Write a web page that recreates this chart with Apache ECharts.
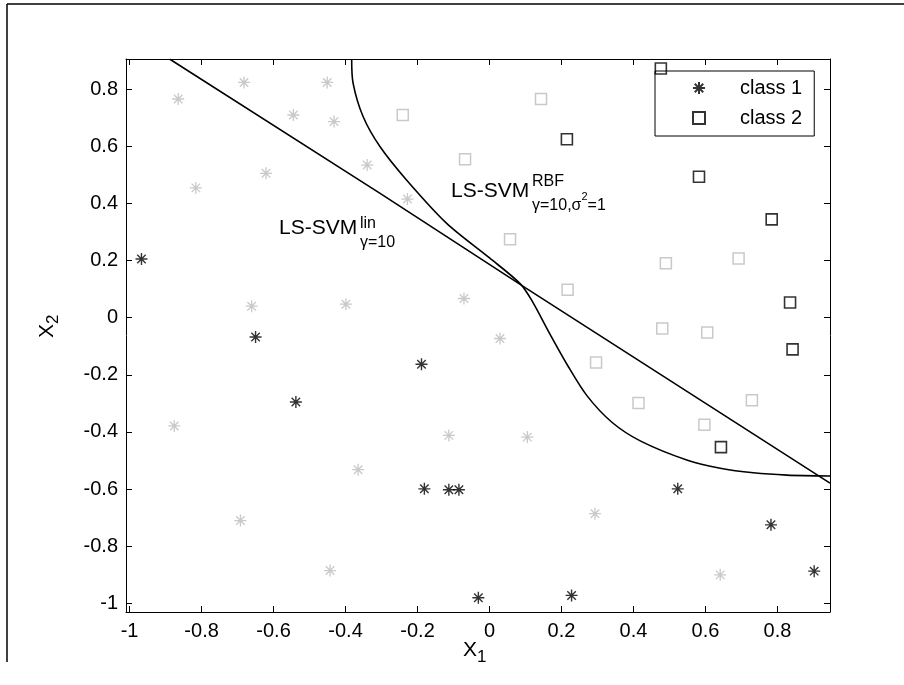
<!DOCTYPE html>
<html>
<head>
<meta charset="utf-8">
<script src="https://cdn.jsdelivr.net/npm/echarts@6/dist/echarts.min.js"></script>
<style>
  html, body { margin: 0; padding: 0; background: #fff; }
  #chart { width: 904px; height: 685px; }
</style>
</head>
<body>
<div id="chart"></div>
<script>
// Tick positions on both axes
const xTicks = [-1, -0.8, -0.6, -0.4, -0.2, 0, 0.2, 0.4, 0.6, 0.8];
const yTicks = [-1, -0.8, -0.6, -0.4, -0.2, 0, 0.2, 0.4, 0.6, 0.8];

// Training points (drawn in black)
const class1Train = [
  [-0.967, 0.205], [-0.650, -0.068], [-0.538, -0.295], [-0.189, -0.163],
  [-0.181, -0.599], [-0.113, -0.602], [-0.085, -0.602], [-0.031, -0.980],
  [0.228, -0.972], [0.523, -0.599], [0.782, -0.725], [0.902, -0.887]
];
const class2Train = [
  [0.476, 0.872], [0.215, 0.624], [0.582, 0.493], [0.784, 0.344],
  [0.835, 0.053], [0.842, -0.111], [0.643, -0.453]
];

// Remaining points (drawn in grey)
const class1Other = [
  [-0.865, 0.765], [-0.682, 0.823], [-0.451, 0.823], [-0.545, 0.709],
  [-0.432, 0.686], [-0.621, 0.505], [-0.816, 0.454], [-0.340, 0.534],
  [-0.228, 0.415], [-0.661, 0.040], [-0.399, 0.047], [-0.071, 0.067],
  [0.029, -0.073], [-0.113, -0.412], [0.105, -0.418], [0.293, -0.686],
  [0.641, -0.900], [-0.876, -0.379], [-0.365, -0.532], [-0.692, -0.710],
  [-0.443, -0.885]
];
const class2Other = [
  [-0.241, 0.709], [0.143, 0.765], [-0.068, 0.554], [0.057, 0.274],
  [0.217, 0.098], [0.490, 0.190], [0.692, 0.207], [0.480, -0.038],
  [0.605, -0.052], [0.296, -0.157], [0.414, -0.299], [0.729, -0.289],
  [0.597, -0.375]
];

// Decision boundaries
const linBoundary = [[-0.888, 0.904], [-0.304, 0.435], [0.099, 0.105], [0.946, -0.579]];
const rbfBoundary = [
  [-0.383, 0.905], [-0.379, 0.820], [-0.351, 0.703], [-0.304, 0.598],
  [-0.230, 0.481], [-0.119, 0.330], [0.001, 0.208], [0.085, 0.119],
  [0.117, 0.061], [0.168, -0.058], [0.215, -0.163], [0.270, -0.272],
  [0.340, -0.366], [0.420, -0.432], [0.550, -0.499], [0.641, -0.527],
  [0.733, -0.543], [0.826, -0.551], [0.946, -0.554]
];

const FONT = '"Liberation Sans", Arial, Helvetica, sans-serif';
const ASTERISK = 'path://M0,-10 L0,10 M-10,0 L10,0 M-7.07,-7.07 L7.07,7.07 M-7.07,7.07 L7.07,-7.07';
const GREY = '#bcbcbc';

const chart = echarts.init(document.getElementById('chart'), null, { renderer: 'canvas' });

const fmt = v => String(Math.round(v * 10) / 10);

const axisCommon = {
  type: 'value',
  scale: true,
  splitLine: { show: false },
  axisLine: { show: true, onZero: false, lineStyle: { color: '#000', width: 1 } },
  axisTick: { show: true, inside: true, length: 6, lineStyle: { color: '#000', width: 1 } }
};

chart.setOption({
  animation: false,
  backgroundColor: '#fff',
  grid: { left: 126, right: 74, top: 59, bottom: 73, containLabel: false },
  xAxis: [
    Object.assign({}, axisCommon, {
      min: -1.01, max: 0.946, position: 'bottom',
      axisTick: Object.assign({}, axisCommon.axisTick, { customValues: xTicks }),
      axisLabel: { customValues: xTicks, formatter: fmt, margin: 9, fontSize: 20, color: '#000', fontFamily: FONT }
    }),
    Object.assign({}, axisCommon, {
      min: -1.01, max: 0.946, position: 'top',
      axisTick: Object.assign({}, axisCommon.axisTick, { customValues: xTicks }),
      axisLabel: { show: false }
    })
  ],
  yAxis: [
    Object.assign({}, axisCommon, {
      min: -1.03, max: 0.905, position: 'left',
      axisTick: Object.assign({}, axisCommon.axisTick, { customValues: yTicks }),
      axisLabel: { customValues: yTicks, formatter: fmt, margin: 8, fontSize: 20, color: '#000', fontFamily: FONT }
    }),
    Object.assign({}, axisCommon, {
      min: -1.03, max: 0.905, position: 'right',
      axisTick: Object.assign({}, axisCommon.axisTick, { customValues: yTicks }),
      axisLabel: { show: false }
    })
  ],
  legend: {
    data: ['class 1', 'class 2'],
    orient: 'vertical',
    left: 655, top: 71,
    padding: [7, 12, 8, 37],
    itemGap: 10,
    itemWidth: 12, itemHeight: 12,
    backgroundColor: '#fff',
    borderColor: '#000', borderWidth: 1, borderRadius: 0,
    textStyle: { fontSize: 20, color: '#000', fontFamily: FONT, padding: [0, 0, 0, 30] }
  },
  series: [
    {
      name: 'class 1 grey', type: 'scatter', data: class1Other,
      symbol: ASTERISK, symbolSize: 12,
      itemStyle: { color: 'transparent', borderColor: GREY, borderWidth: 1.3 }, z: 2
    },
    {
      name: 'class 2 grey', type: 'scatter', data: class2Other,
      symbol: 'rect', symbolSize: 11,
      itemStyle: { color: 'transparent', borderColor: GREY, borderWidth: 1.5 }, z: 2
    },
    {
      name: 'lin', type: 'line', data: linBoundary, symbol: 'none', clip: true,
      lineStyle: { color: '#000', width: 1.6 }, z: 3
    },
    {
      name: 'rbf', type: 'line', data: rbfBoundary, symbol: 'none', clip: true, smooth: 0.3,
      lineStyle: { color: '#000', width: 1.6 }, z: 3
    },
    {
      name: 'class 1', type: 'scatter', data: class1Train,
      symbol: ASTERISK, symbolSize: 12,
      itemStyle: { color: 'transparent', borderColor: '#000', borderWidth: 1.4 }, z: 4
    },
    {
      name: 'class 2', type: 'scatter', data: class2Train,
      symbol: 'rect', symbolSize: 11,
      itemStyle: { color: 'transparent', borderColor: '#000', borderWidth: 1.6 }, z: 4
    }
  ],
  graphic: [
    // figure frame
    { type: 'line', shape: { x1: 7, y1: 4, x2: 904, y2: 4 }, style: { stroke: '#000', lineWidth: 1.5 }, silent: true },
    { type: 'line', shape: { x1: 7, y1: 4, x2: 7, y2: 662 }, style: { stroke: '#000', lineWidth: 1.5 }, silent: true },
    // axis names
    {
      type: 'text', left: 463, top: 640, silent: true,
      style: {
        text: '{m|X}{s|1}', fontFamily: FONT,
        rich: {
          m: { fontSize: 21, lineHeight: 30, verticalAlign: 'middle', fontFamily: FONT, fill: '#000' },
          s: { fontSize: 17, lineHeight: 17, verticalAlign: 'bottom', fontFamily: FONT, fill: '#000' }
        }
      }
    },
    {
      type: 'text', x: 32, y: 338, rotation: Math.PI / 2, silent: true,
      style: {
        text: '{m|X}{s|2}', fontFamily: FONT,
        rich: {
          m: { fontSize: 21, lineHeight: 30, verticalAlign: 'middle', fontFamily: FONT, fill: '#000' },
          s: { fontSize: 17, lineHeight: 17, verticalAlign: 'bottom', fontFamily: FONT, fill: '#000' }
        }
      }
    },
    // linear LS-SVM label
    { type: 'text', x: 279, y: 228.6, silent: true,
      style: { text: 'LS-SVM', fontSize: 21, fontFamily: FONT, fill: '#000', verticalAlign: 'middle' } },
    { type: 'text', x: 360, y: 224, silent: true,
      style: { text: 'lin', fontSize: 16, fontFamily: FONT, fill: '#000', verticalAlign: 'middle' } },
    { type: 'text', x: 360, y: 242.4, silent: true,
      style: { text: 'γ=10', fontSize: 16, fontFamily: FONT, fill: '#000', verticalAlign: 'middle' } },
    // RBF LS-SVM label
    { type: 'text', x: 451, y: 191, silent: true,
      style: { text: 'LS-SVM', fontSize: 21, fontFamily: FONT, fill: '#000', verticalAlign: 'middle' } },
    { type: 'text', x: 532, y: 181.4, silent: true,
      style: { text: 'RBF', fontSize: 16, fontFamily: FONT, fill: '#000', verticalAlign: 'middle' } },
    { type: 'text', x: 532, y: 205.4, silent: true,
      style: {
        text: '{m|γ=10,σ}{p|2}{m|=1}', fontFamily: FONT, verticalAlign: 'middle',
        rich: {
          m: { fontSize: 16, lineHeight: 28, verticalAlign: 'middle', fontFamily: FONT, fill: '#000' },
          p: { fontSize: 11, lineHeight: 11, verticalAlign: 'top', fontFamily: FONT, fill: '#000' }
        }
      }
    }
  ]
});
</script>
</body>
</html>
